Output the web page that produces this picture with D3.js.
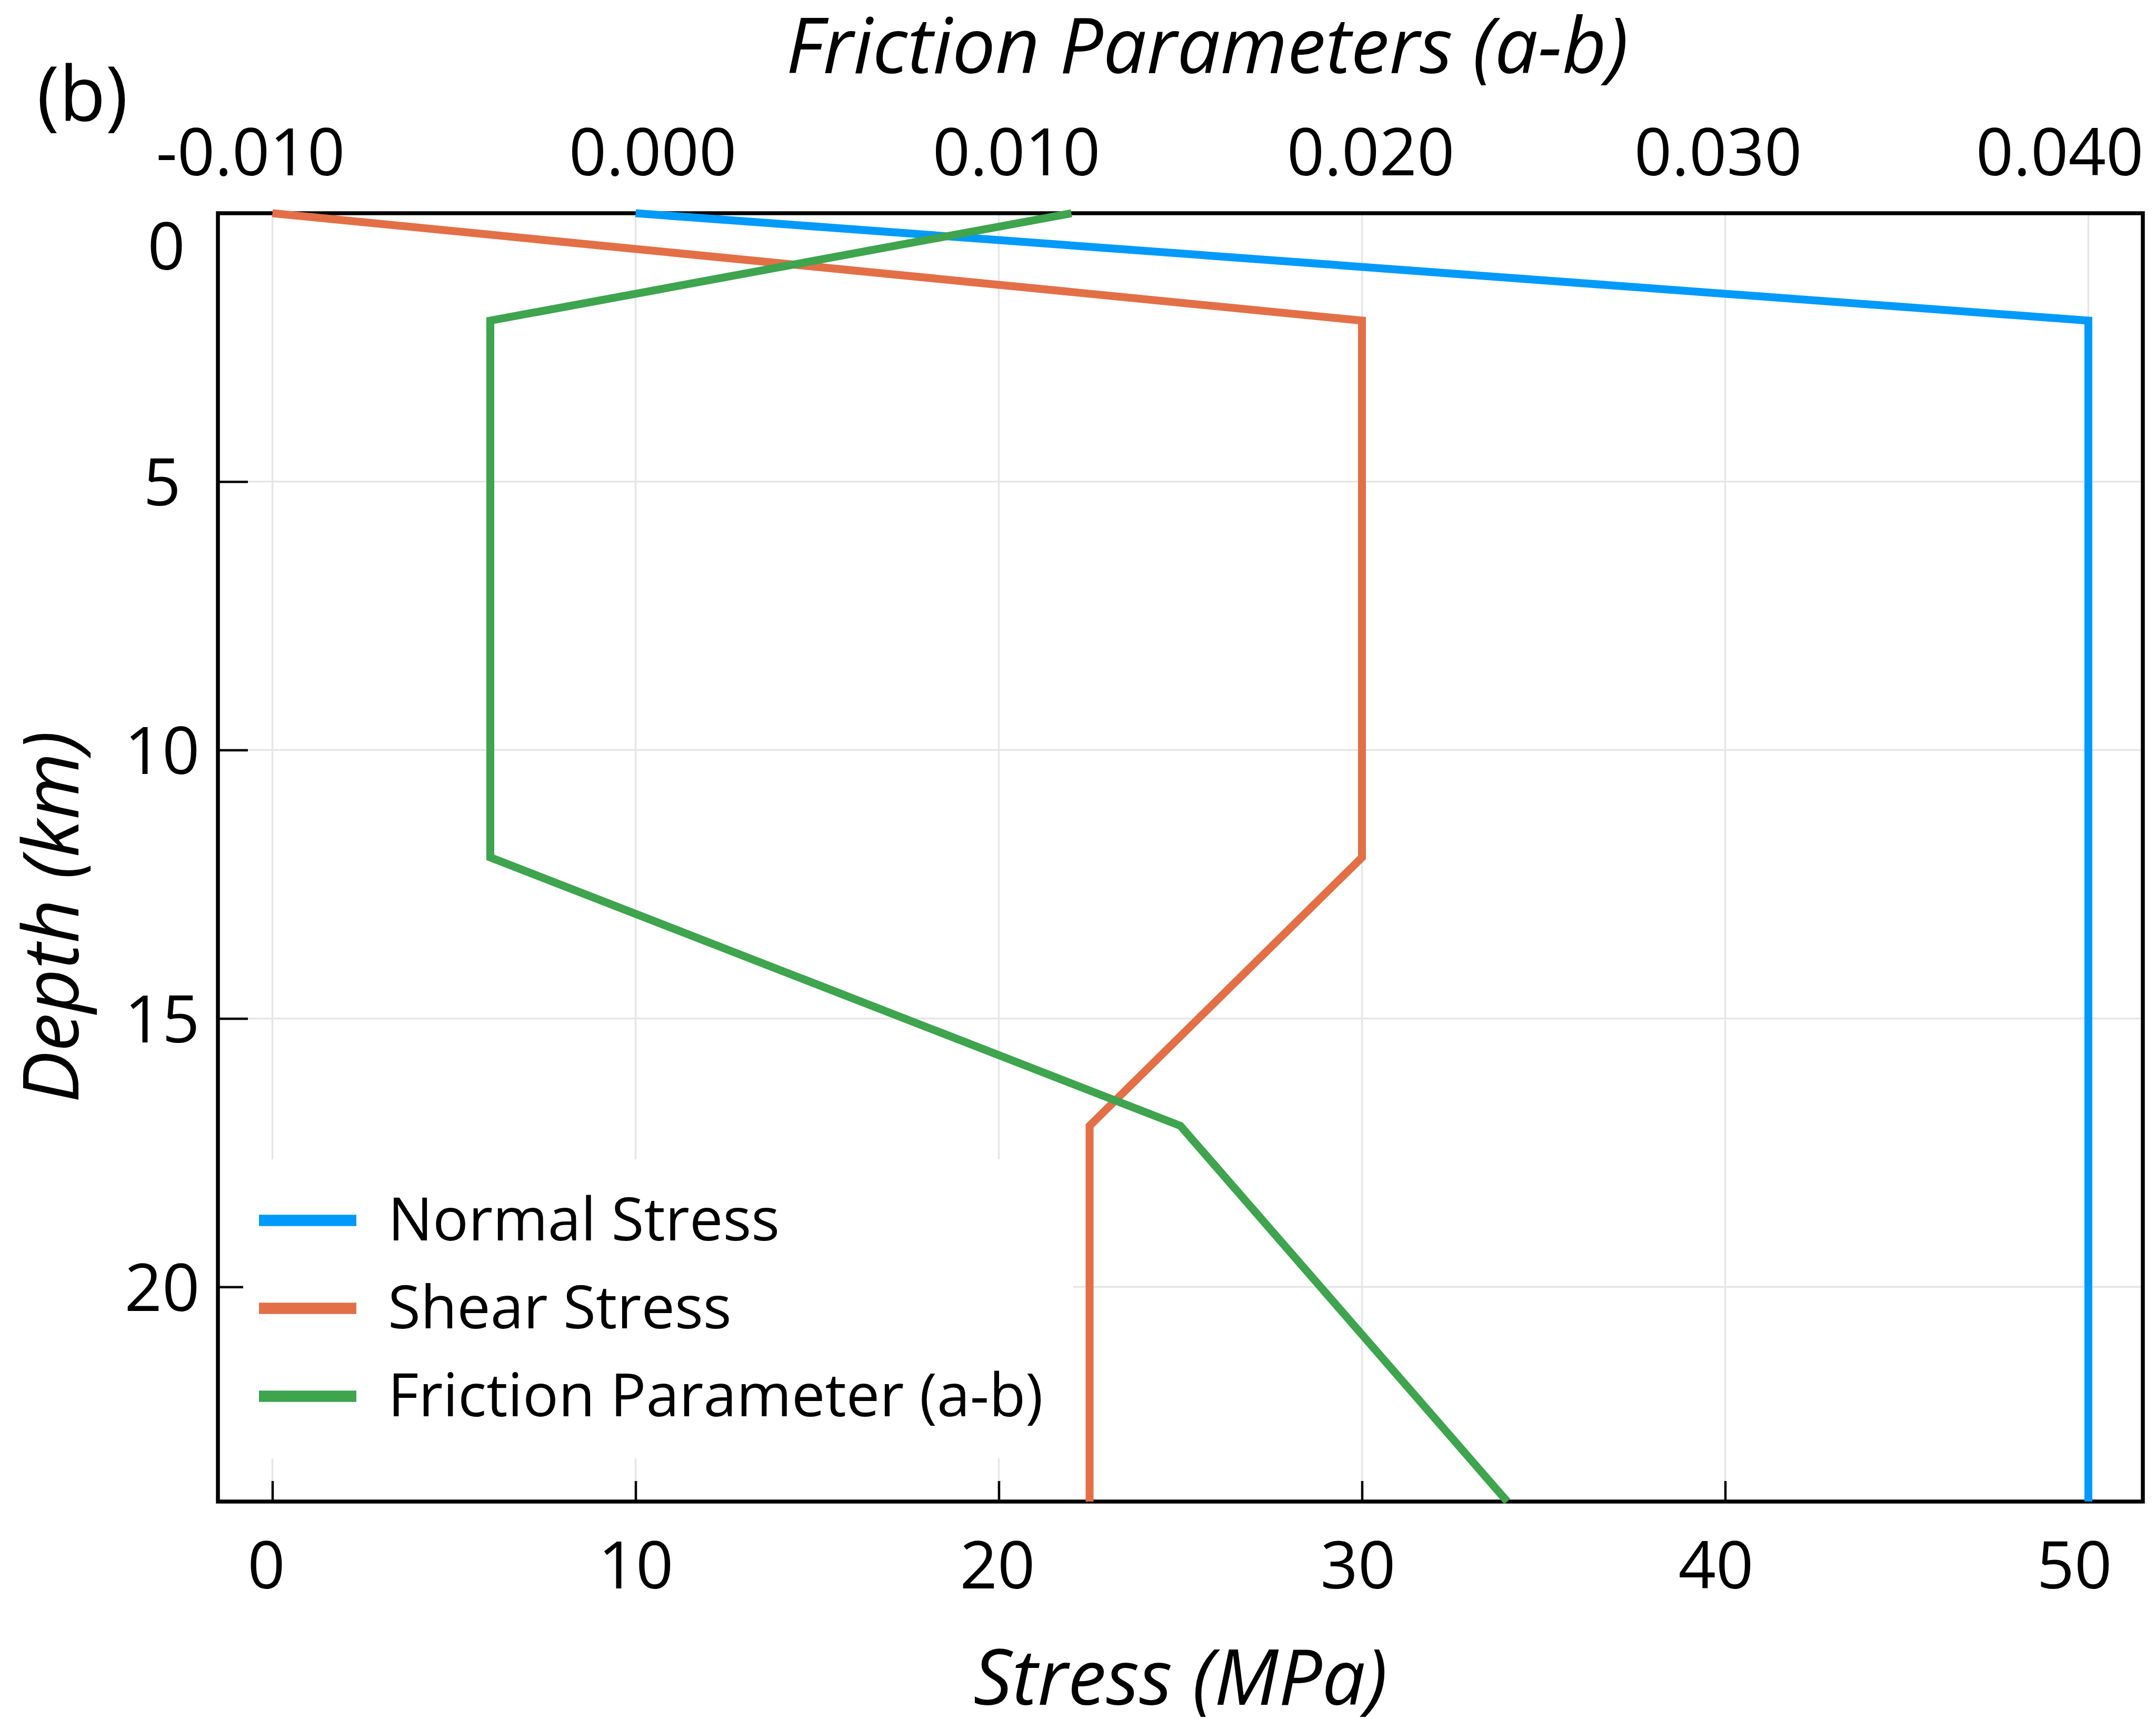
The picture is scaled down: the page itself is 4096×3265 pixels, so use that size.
<!DOCTYPE html>
<html>
<head>
<meta charset="utf-8">
<script src="https://cdn.jsdelivr.net/npm/d3@7"></script>
<style>
  html, body { margin: 0; padding: 0; background: #ffffff; }
  svg { display: block; }
</style>
</head>
<body>
<svg id="chart" width="4096" height="3265"></svg>
<script>
// Tick values
const stressTicks = [0, 10, 20, 30, 40, 50];
const frictionTicks = [-0.010, 0.000, 0.010, 0.020, 0.030, 0.040];
const depthTicks = [0, 5, 10, 15, 20];

// Profiles along depth (km)
const normalDepth = [0, 2, 24];
const normalStress = [10, 50, 50];            // MPa
const shearDepth = [0, 2, 12, 17, 24];
const shearStress = [0, 30, 30, 22.5, 22.5];  // MPa
const frictionDepth = [0, 2, 12, 17, 24];
const frictionAB = [0.012, -0.004, -0.004, 0.015, 0.024];

const seriesNames = ["Normal Stress", "Shear Stress", "Friction Parameter (a-b)"];
const seriesColors = ["#009AFA", "#E36F47", "#3EA44E"];

// Small horizontal label nudges (px) so the outer labels stay inside the figure
const topLabelNudge = [-42, 32, 33, 16, -14, -55];
const bottomLabelNudge = [-12, 0, -3, -8, -18, -27];

const FONT = "'Open Sans', 'Noto Sans', sans-serif";

const svg = d3.select("#chart");
const box = { left: 414, right: 4071, top: 405, bottom: 2852 };

// Stress on the bottom axis, (a-b) on the top axis sharing the same span
const x = d3.scaleLinear().domain([-1.5, 51.5]).range([box.left, box.right]);
const xf = d3.scaleLinear().domain([-0.0115, 0.0415]).range([box.left, box.right]);
const y = d3.scaleLinear().domain([0, 24]).range([box.top, box.bottom]);

svg.append("rect").attr("width", 4096).attr("height", 3265).attr("fill", "#ffffff");

// Grid
const grid = svg.append("g").attr("stroke", "#e6e6e6").attr("stroke-width", 3.5);
grid.selectAll("line.vx").data(stressTicks).join("line")
  .attr("x1", d => x(d)).attr("x2", d => x(d))
  .attr("y1", box.top).attr("y2", box.bottom);
grid.selectAll("line.hy").data(depthTicks.filter(d => d > 0)).join("line")
  .attr("x1", box.left).attr("x2", box.right)
  .attr("y1", d => y(d)).attr("y2", d => y(d));

// Frame
svg.append("rect")
  .attr("x", box.left).attr("y", box.top)
  .attr("width", box.right - box.left).attr("height", box.bottom - box.top)
  .attr("fill", "none").attr("stroke", "#000").attr("stroke-width", 7.5);

// Axes
function styleAxis(g) {
  g.select(".domain").remove();
  g.selectAll(".tick line").attr("stroke", "#000").attr("stroke-width", 4.5);
  g.selectAll(".tick text").attr("font-family", FONT).attr("font-size", 125).attr("fill", "#000");
}

const bottomAxis = svg.append("g")
  .attr("transform", `translate(0,${box.bottom})`)
  .call(d3.axisBottom(x).tickValues(stressTicks).tickSize(-39).tickSizeOuter(0).tickFormat(d3.format("d")))
  .call(styleAxis);
bottomAxis.selectAll(".tick text")
  .attr("y", 165).attr("dy", 0)
  .attr("x", (d, i) => bottomLabelNudge[i]);

const topAxis = svg.append("g")
  .attr("transform", `translate(0,${box.top})`)
  .call(d3.axisTop(xf).tickValues(frictionTicks).tickSize(0).tickSizeOuter(0).tickFormat(d => d.toFixed(3)))
  .call(styleAxis);
topAxis.selectAll(".tick text")
  .attr("y", -72).attr("dy", 0)
  .attr("x", (d, i) => topLabelNudge[i]);

const leftAxis = svg.append("g")
  .attr("transform", `translate(${box.left},0)`)
  .call(d3.axisLeft(y).tickValues(depthTicks).tickSize(-57).tickSizeOuter(0).tickFormat(d3.format("d")))
  .call(styleAxis);
leftAxis.selectAll(".tick text")
  .attr("text-anchor", "middle")
  .attr("x", -106).attr("dy", "0.36em");
// keep the surface label clear of the top axis labels
leftAxis.selectAll(".tick text").filter(d => d === 0).attr("y", 61).attr("x", -98);

// Axis titles
svg.append("text")
  .attr("x", (box.left + box.right) / 2 + 51).attr("y", 139)
  .attr("text-anchor", "middle").attr("font-family", FONT).attr("font-style", "italic")
  .attr("font-size", 146).text("Friction Parameters (a-b)");

svg.append("text")
  .attr("x", (box.left + box.right) / 2).attr("y", 3238)
  .attr("text-anchor", "middle").attr("font-family", FONT).attr("font-style", "italic")
  .attr("font-size", 146).text("Stress (MPa)");

svg.append("text")
  .attr("transform", `translate(149,${(box.top + box.bottom) / 2 + 113}) rotate(-90)`)
  .attr("text-anchor", "middle").attr("font-family", FONT).attr("font-style", "italic")
  .attr("font-size", 146).text("Depth (km)");

svg.append("text")
  .attr("x", 70).attr("y", 230)
  .attr("font-family", FONT).attr("font-size", 144).text("(b)");

// Profiles
const stressLine = d3.line().x(d => x(d[0])).y(d => y(d[1]));
const frictionLine = d3.line().x(d => xf(d[0])).y(d => y(d[1]));

const profiles = [
  { path: stressLine(normalStress.map((v, i) => [v, normalDepth[i]])), color: seriesColors[0] },
  { path: stressLine(shearStress.map((v, i) => [v, shearDepth[i]])), color: seriesColors[1] },
  { path: frictionLine(frictionAB.map((v, i) => [v, frictionDepth[i]])), color: seriesColors[2] }
];

svg.append("g").selectAll("path").data(profiles).join("path")
  .attr("d", d => d.path)
  .attr("fill", "none")
  .attr("stroke", d => d.color)
  .attr("stroke-width", 15)
  .attr("stroke-linejoin", "miter")
  .attr("stroke-linecap", "butt");

// Legend
const legend = svg.append("g");
legend.append("rect")
  .attr("x", 462).attr("y", 2202).attr("width", 2039 - 462).attr("height", 2770 - 2202)
  .attr("fill", "#ffffff");
const rows = legend.selectAll("g.row").data(seriesNames).join("g")
  .attr("transform", (d, i) => `translate(0,${2318 + i * 167})`);
rows.append("line")
  .attr("x1", 492).attr("x2", 677).attr("y1", 0).attr("y2", 0)
  .attr("stroke", (d, i) => seriesColors[i]).attr("stroke-width", 21.5);
rows.append("text")
  .attr("x", 737).attr("y", 38)
  .attr("font-family", FONT).attr("font-size", 113).attr("fill", "#000")
  .text(d => d);
</script>
</body>
</html>
